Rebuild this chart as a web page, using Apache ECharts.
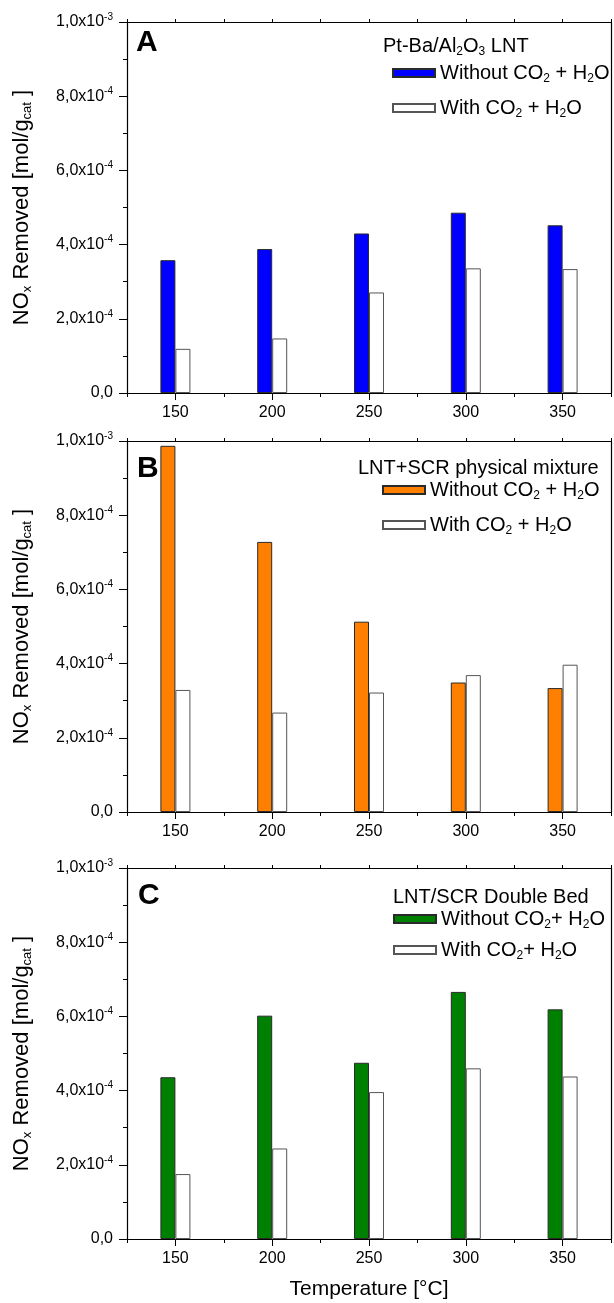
<!DOCTYPE html>
<html>
<head>
<meta charset="utf-8">
<script src="https://cdn.jsdelivr.net/npm/echarts@6/dist/echarts.min.js"></script>
<style>
    html, body { margin: 0; padding: 0; background: #fff; }
    #chart { width: 614px; height: 1303px; }
</style>
</head>
<body>
<div id="chart"></div>
<script>
// temperatures [°C] and NOx removed [mol/g_cat]
var temps = [150, 200, 250, 300, 350];
var xTicks = ["125", "150", "175", "200", "225", "250", "275", "300", "325", "350", "375"];

var lntWithout = [3.58e-4, 3.88e-4, 4.30e-4, 4.86e-4, 4.52e-4];
var lntWith    = [1.19e-4, 1.47e-4, 2.71e-4, 3.36e-4, 3.34e-4];

var mixWithout = [9.87e-4, 7.28e-4, 5.13e-4, 3.49e-4, 3.34e-4];
var mixWith    = [3.29e-4, 2.68e-4, 3.22e-4, 3.69e-4, 3.97e-4];

var bedWithout = [4.36e-4, 6.02e-4, 4.75e-4, 6.66e-4, 6.19e-4];
var bedWith    = [1.75e-4, 2.44e-4, 3.96e-4, 4.60e-4, 4.38e-4];

var FONT = '"Liberation Sans", Arial, sans-serif';

var panels = [
    {
        letter: "A", title: "Pt-Ba/Al{s|2}O{s|3} LNT", color: "#0000ff",
        without: lntWithout, withW: lntWith,
        labWithout: "Without CO{s|2} + H{s|2}O", labWith: "With CO{s|2} + H{s|2}O",
        top: 22, letterX: 136, letterY: 43, titleX: 383, titleY: 46,
        legendX: 392, legendY: 61, legendGap: 11
    },
    {
        letter: "B", title: "LNT+SCR physical mixture", color: "#ff8000",
        without: mixWithout, withW: mixWith,
        labWithout: "Without CO{s|2} + H{s|2}O", labWith: "With CO{s|2} + H{s|2}O",
        top: 441, letterX: 137, letterY: 469, titleX: 358, titleY: 468,
        legendX: 382, legendY: 478, legendGap: 11
    },
    {
        letter: "C", title: "LNT/SCR Double Bed", color: "#008000",
        without: bedWithout, withW: bedWith,
        labWithout: "Without CO{s|2}+ H{s|2}O", labWith: "With CO{s|2}+ H{s|2}O",
        top: 868, letterX: 138, letterY: 896, titleX: 393, titleY: 897,
        legendX: 393, legendY: 907, legendGap: 7
    }
];

var subRich = {
    s: { fontSize: 12, lineHeight: 10, verticalAlign: "bottom", fontFamily: FONT, color: "#000" }
};

function yLabel(v){
    if(v === 0) return "{m|0,0}";
    var e = Math.floor(Math.log10(v) + 1e-9);
    var m = (v / Math.pow(10, e)).toFixed(1).replace(".", ",");
    return "{m|" + m + "x10}{p|" + e + "}";
}

var option = {
    animation: false,
    grid: [], xAxis: [], yAxis: [], series: [], legend: [], graphic: []
};

for(var k = 0; k < panels.length; k++){
    var p = panels[k];
    var last = (k === panels.length - 1);

    option.grid.push({ left: 127, width: 486, top: p.top, height: 371 });

    // main bottom axis with labels
    option.xAxis.push({
        type: "value", gridIndex: k, position: "bottom",
        min: 125, max: 375, interval: 25,
        axisLine: { lineStyle: { color: "#000", width: 1.2 } },
        axisTick: { length: 4, lineStyle: { color: "#000" } },
        splitLine: { show: false },
        axisLabel: {
            margin: 12, color: "#000", fontSize: 16, fontFamily: FONT,
            formatter: function(v){ return temps.indexOf(v) >= 0 ? String(v) : ""; }
        },
        name: last ? "Temperature [°C]" : "",
        nameLocation: "middle", nameGap: 40,
        nameTextStyle: { fontSize: 21, color: "#000", fontFamily: FONT }
    });
    // longer ticks at the labelled temperatures
    option.xAxis.push({
        type: "category", gridIndex: k, position: "bottom", boundaryGap: false,
        data: xTicks,
        axisLine: { show: false },
        axisTick: { length: 7, lineStyle: { color: "#000" },
            interval: function(i, val){ return temps.indexOf(+val) >= 0; } },
        axisLabel: { show: false }
    });
    // top frame
    option.xAxis.push({
        type: "value", gridIndex: k, position: "top",
        min: 125, max: 375, interval: 25,
        axisLine: { lineStyle: { color: "#000", width: 1.2 } },
        axisTick: { length: 3, lineStyle: { color: "#000" } },
        axisLabel: { show: false }, splitLine: { show: false }
    });

    option.yAxis.push({
        type: "value", gridIndex: k, position: "left",
        min: 0, max: 1e-3, interval: 2e-4,
        axisLine: { show: true, lineStyle: { color: "#000", width: 1.2 } },
        axisTick: { show: true, length: 8, lineStyle: { color: "#000" } },
        minorTick: { show: true, splitNumber: 2, length: 4, lineStyle: { color: "#000" } },
        splitLine: { show: false },
        axisLabel: {
            margin: 14, formatter: yLabel,
            rich: {
                m: { fontSize: 16, lineHeight: 20, color: "#000", fontFamily: FONT },
                p: { fontSize: 10, lineHeight: 10, verticalAlign: "top", color: "#000", fontFamily: FONT }
            }
        },
        name: "{n|NO}{s|x}{n| Removed [mol/g}{s|cat}{n| ]}",
        nameLocation: "middle", nameGap: 93, nameRotate: 90,
        nameTextStyle: {
            rich: {
                n: { fontSize: 22, lineHeight: 25, color: "#000", fontFamily: FONT },
                s: { fontSize: 13, lineHeight: 12, verticalAlign: "bottom", color: "#000", fontFamily: FONT }
            }
        }
    });
    // right frame
    option.yAxis.push({
        type: "value", gridIndex: k, position: "right",
        min: 0, max: 1e-3, interval: 2e-4,
        axisLine: { show: true, lineStyle: { color: "#000", width: 1.2 } },
        axisTick: { show: false }, axisLabel: { show: false }, splitLine: { show: false }
    });

    var nWithout = p.letter + "_without", nWith = p.letter + "_with";

    option.series.push({
        type: "bar", name: nWithout, xAxisIndex: k * 3, yAxisIndex: k * 2,
        barWidth: 15, barGap: "0%", silent: true,
        itemStyle: { color: p.color, borderColor: "#2a2a2a", borderWidth: 1 },
        data: temps.map(function(t, i){ return [t, p.without[i]]; })
    });
    option.series.push({
        type: "bar", name: nWith, xAxisIndex: k * 3, yAxisIndex: k * 2,
        barWidth: 15, barGap: "0%", silent: true,
        itemStyle: { color: "#fff", borderColor: "#555", borderWidth: 1 },
        data: temps.map(function(t, i){ return [t, p.withW[i]]; })
    });

    (function(p, nWithout, nWith){
        option.legend.push({
            orient: "vertical", left: p.legendX, top: p.legendY, padding: 0,
            itemGap: p.legendGap, itemWidth: 42, itemHeight: 8, icon: "rect",
            selectedMode: false,
            data: [nWithout, nWith],
            formatter: function(name){ return name === nWithout ? p.labWithout : p.labWith; },
            textStyle: { fontSize: 20, lineHeight: 24, color: "#000", fontFamily: FONT, rich: subRich }
        });
    })(p, nWithout, nWith);

    option.graphic.push({
        type: "text", x: p.letterX, y: p.letterY,
        style: { text: p.letter, font: 'bold 30px ' + FONT, fill: "#000", verticalAlign: "middle" }
    });
    option.graphic.push({
        type: "text", x: p.titleX, y: p.titleY,
        style: { text: p.title, fontSize: 20, fontFamily: FONT, lineHeight: 24, fill: "#000",
            verticalAlign: "middle", rich: subRich }
    });
}

var myChart = echarts.init(document.getElementById("chart"));
myChart.setOption(option);
window.onresize = myChart.resize;
</script>
</body>
</html>
